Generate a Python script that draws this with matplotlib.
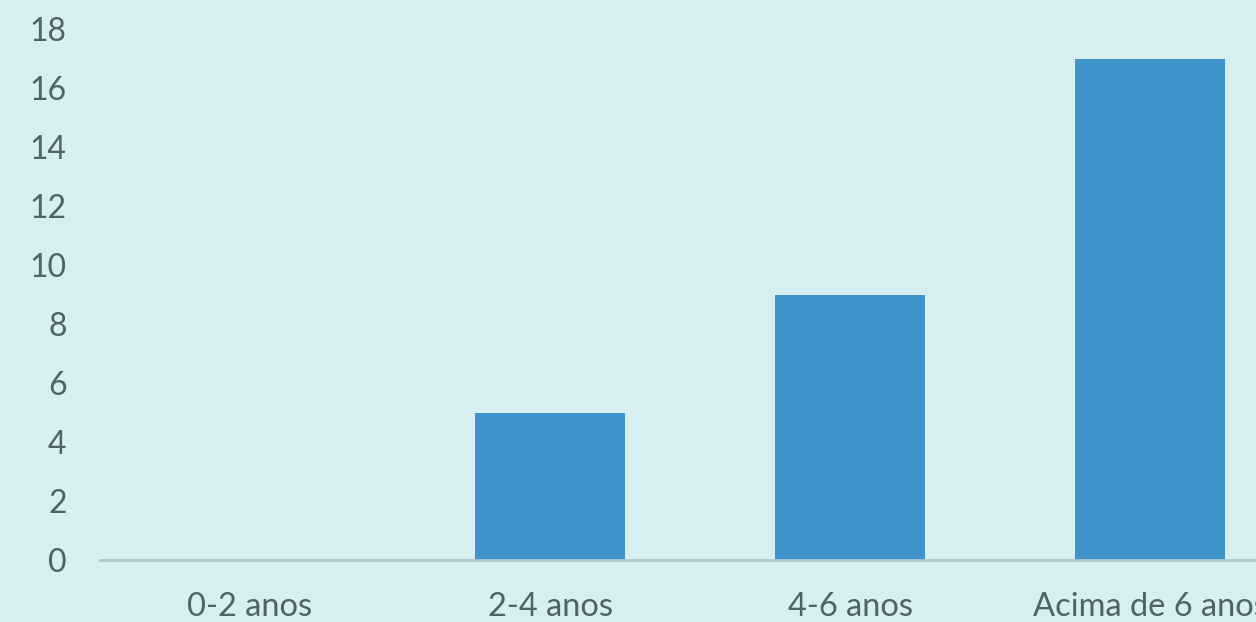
import matplotlib
matplotlib.use("Agg")
import matplotlib.pyplot as plt
import numpy as np

categories = ["0-2 anos", "2-4 anos", "4-6 anos", "Acima de 6 anos"]
values = [0, 5, 9, 17]
y_ticks = [0, 2, 4, 6, 8, 10, 12, 14, 16, 18]

bg = "#D7EFF1"
bar_color = "#3F95CB"
text_color = "#4F6266"

plt.rcParams['font.family'] = ['Lato', 'DejaVu Sans']

W, H = 1256, 622
fig = plt.figure(figsize=(W / 100, H / 100), dpi=100, facecolor=bg)
# axes runs past the right edge, as in the reference
ax = fig.add_axes([100 / W, 62 / H, 1200 / W, 531 / H], facecolor=bg)

x = np.arange(len(categories))
ax.bar(x, values, width=0.5, color=bar_color, zorder=2)

ax.set_xlim(-0.5, len(categories) - 0.5)
ax.set_ylim(0, 18)
ax.set_yticks(y_ticks)
ax.set_yticklabels([str(t) for t in y_ticks])
ax.set_xticks(x)
ax.set_xticklabels(categories)

for s in ["top", "right", "left"]:
    ax.spines[s].set_visible(False)
ax.spines["bottom"].set_color("#AFC7CA")
ax.spines["bottom"].set_linewidth(2)
ax.spines["bottom"].set_zorder(3)

ax.tick_params(axis="y", length=0, pad=24, labelsize=23, labelcolor=text_color)
ax.tick_params(axis="x", length=0, pad=23, labelsize=23.5, labelcolor=text_color)

fig.savefig("out.png", dpi=100, facecolor=bg)
